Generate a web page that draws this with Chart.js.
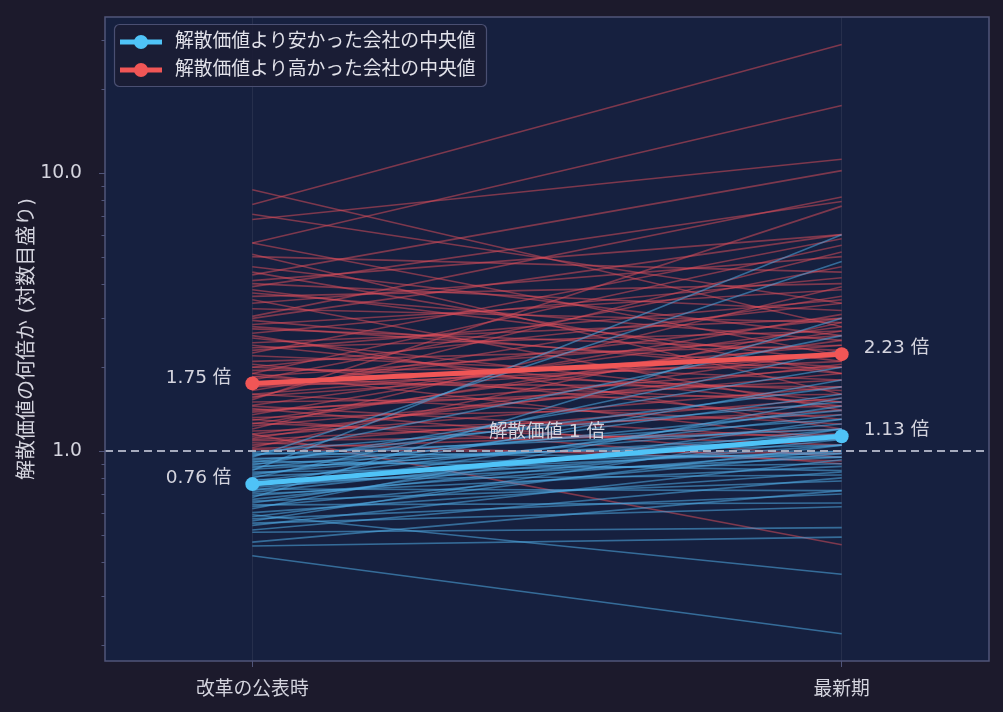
<!DOCTYPE html>
<html><head><meta charset="utf-8">
<script src="https://cdn.jsdelivr.net/npm/chart.js@4/dist/chart.umd.min.js"></script>
<style>html,body{margin:0;padding:0;background:#1c1a2c;}#wrap{width:1003px;height:712px;}</style>
</head><body><div id="wrap"><canvas id="c" width="1003" height="712"></canvas></div>
<script>
const categories = ['改革の公表時', '最新期'];
const redStart = [7.7, 8.7, 7.1, 6.8, 5.6, 5.6, 5.1, 4.3, 4.1, 4.0, 3.9, 3.7, 3.5, 3.4, 3.25, 3.05, 2.95, 2.85, 2.75, 2.65, 2.55, 2.45, 2.35, 2.25, 2.2, 2.1, 2.05, 2.0, 1.95, 1.9, 1.85, 1.8, 1.75, 1.7, 1.65, 1.6, 1.57, 1.53, 1.5, 1.46, 1.42, 1.38, 1.35, 1.32, 1.29, 1.26, 1.23, 1.2, 1.18, 1.15, 1.13, 1.11, 1.09, 1.07, 1.05, 1.03, 1.02, 1.01, 4.6, 3.0, 2.6, 2.3, 1.9, 1.6, 1.4, 1.25, 1.1, 2.8, 3.6, 2.0, 1.7, 1.45, 1.15, 1.3, 2.4, 3.8, 5.0, 4.4, 1.55, 1.85];
const redEnd   = [29, 2.8, 3.4, 11.2, 17.5, 2.2, 1.6, 10.2, 6.0, 3.2, 7.9, 2.5, 1.4, 5.0, 2.9, 8.2, 1.9, 3.8, 2.3, 4.2, 1.5, 3.0, 2.7, 5.8, 1.8, 2.4, 1.3, 3.4, 2.0, 1.1, 2.6, 4.6, 1.7, 2.1, 3.6, 1.25, 2.2, 7.6, 1.6, 2.8, 0.95, 2.0, 3.1, 1.45, 2.5, 1.05, 1.9, 3.9, 1.35, 0.46, 1.7, 2.3, 1.15, 0.92, 1.55, 2.9, 1.2, 0.98, 2.6, 6.0, 1.2, 3.5, 5.5, 2.4, 1.8, 2.7, 1.4, 2.0, 4.0, 1.65, 3.0, 1.1, 2.05, 0.9, 1.45, 2.1, 4.4, 1.9, 5.2, 1.5];
const blueStart = [0.99, 0.98, 0.97, 0.96, 0.95, 0.94, 0.93, 0.92, 0.91, 0.90, 0.89, 0.88, 0.87, 0.86, 0.85, 0.84, 0.83, 0.82, 0.81, 0.80, 0.79, 0.78, 0.77, 0.76, 0.75, 0.74, 0.73, 0.72, 0.71, 0.70, 0.69, 0.68, 0.67, 0.66, 0.65, 0.64, 0.63, 0.62, 0.60, 0.59, 0.58, 0.57, 0.56, 0.55, 0.54, 0.52, 0.51, 0.47, 0.455, 0.42];
const blueEnd   = [1.5, 0.95, 1.2, 2.6, 4.8, 1.05, 1.3, 0.85, 1.7, 1.1, 2.0, 0.98, 1.4, 1.15, 6.0, 0.9, 1.25, 1.6, 1.0, 2.3, 0.82, 1.35, 1.12, 0.95, 1.8, 1.05, 0.72, 1.45, 1.2, 0.88, 1.0, 3.0, 1.1, 0.78, 1.3, 0.65, 0.98, 1.55, 0.84, 0.36, 1.05, 0.70, 1.2, 0.63, 0.93, 0.80, 0.53, 0.72, 0.49, 0.22];
const medianLow  = [0.76, 1.13];
const medianHigh = [1.75, 2.23];
const yTickValues = [0.2, 0.3, 0.4, 0.5, 0.6, 0.7, 0.8, 0.9, 1, 2, 3, 4, 5, 6, 7, 8, 9, 10, 20, 30];
const yLabelValues = [1, 10];
const legendLabels = ['解散価値より安かった会社の中央値', '解散価値より高かった会社の中央値'];
const refLabel = '解散価値 1 倍';

const FONT = '"DejaVu Sans", "Noto Sans CJK JP", sans-serif';
const SPINE = '#50557a';
const TXT = '#d4d4de';
const RED = '#f05656';
const BLUE = '#4fc3f7';

function pts(a, b) { return [{x: 0, y: a}, {x: 1, y: b}]; }

const datasets = [];
datasets.push({label: legendLabels[0], data: pts(medianLow[0], medianLow[1]), borderColor: BLUE, backgroundColor: BLUE,
  borderWidth: 5, pointRadius: 7, pointBackgroundColor: BLUE, pointBorderWidth: 0});
datasets.push({label: legendLabels[1], data: pts(medianHigh[0], medianHigh[1]), borderColor: RED, backgroundColor: RED,
  borderWidth: 5, pointRadius: 7, pointBackgroundColor: RED, pointBorderWidth: 0});
for (let i = 0; i < blueStart.length; i++) {
  datasets.push({data: pts(blueStart[i], blueEnd[i]), borderColor: 'rgba(80,172,228,0.55)', borderWidth: 1.6, pointRadius: 0});
}
for (let i = 0; i < redStart.length; i++) {
  datasets.push({data: pts(redStart[i], redEnd[i]), borderColor: 'rgba(228,80,92,0.50)', borderWidth: 1.6, pointRadius: 0});
}

const decor = {
  id: 'decor',
  beforeDraw(chart) {
    const {ctx, chartArea: a} = chart;
    ctx.save();
    ctx.fillStyle = '#1c1a2c';
    ctx.fillRect(0, 0, chart.width, chart.height);
    ctx.fillStyle = '#16203f';
    ctx.fillRect(a.left, a.top, a.right - a.left, a.bottom - a.top);
    ctx.restore();
  },
  afterDatasetDraw(chart, args) {
    if (args.index !== 2) return;
    const {ctx, chartArea: a, scales: {y}} = chart;
    const py = y.getPixelForValue(1);
    ctx.save();
    ctx.strokeStyle = '#a6abbe';
    ctx.lineWidth = 2;
    ctx.setLineDash([8, 5]);
    ctx.beginPath(); ctx.moveTo(a.left, py); ctx.lineTo(a.right, py); ctx.stroke();
    ctx.setLineDash([]);
    ctx.fillStyle = TXT;
    ctx.font = '18.5px ' + FONT;
    ctx.textAlign = 'center'; ctx.textBaseline = 'middle';
    ctx.fillText(refLabel, (a.left + a.right) / 2, py - 19);
    ctx.restore();
  },
  afterDraw(chart) {
    const {ctx, chartArea: a, scales: {x, y}} = chart;
    ctx.save();
    ctx.strokeStyle = SPINE; ctx.lineWidth = 1;
    yTickValues.forEach(v => {
      const py = Math.round(y.getPixelForValue(v)) + 0.5;
      const len = yLabelValues.includes(v) ? 6 : 3.5;
      ctx.beginPath(); ctx.moveTo(a.left - len, py); ctx.lineTo(a.left, py); ctx.stroke();
    });
    ctx.lineWidth = 1.5;
    ctx.strokeRect(a.left, a.top, a.right - a.left, a.bottom - a.top);
    ctx.fillStyle = TXT;
    ctx.font = '18.5px ' + FONT;
    ctx.textBaseline = 'middle';
    const x0 = x.getPixelForValue(0), x1 = x.getPixelForValue(1);
    ctx.textAlign = 'right';
    ctx.fillText(medianHigh[0].toFixed(2) + ' 倍', x0 - 21, y.getPixelForValue(medianHigh[0]) - 5);
    ctx.fillText(medianLow[0].toFixed(2) + ' 倍', x0 - 21, y.getPixelForValue(medianLow[0]) - 6);
    ctx.textAlign = 'left';
    ctx.fillText(medianHigh[1].toFixed(2) + ' 倍', x1 + 22, y.getPixelForValue(medianHigh[1]) - 6);
    ctx.fillText(medianLow[1].toFixed(2) + ' 倍', x1 + 22, y.getPixelForValue(medianLow[1]) - 6);
    const lx = a.left + 9, ly = a.top + 7, lw = 372, lh = 62;
    ctx.beginPath();
    ctx.roundRect(lx + 0.5, ly + 0.5, lw, lh, 5);
    ctx.fillStyle = 'rgba(27,29,52,0.88)';
    ctx.fill();
    ctx.strokeStyle = '#4a4f72'; ctx.lineWidth = 1.2;
    ctx.stroke();
    const cols = [BLUE, RED];
    for (let i = 0; i < 2; i++) {
      const cy = ly + 18 + i * 28;
      ctx.strokeStyle = cols[i]; ctx.lineWidth = 5;
      ctx.beginPath(); ctx.moveTo(lx + 6, cy); ctx.lineTo(lx + 48, cy); ctx.stroke();
      ctx.fillStyle = cols[i];
      ctx.beginPath(); ctx.arc(lx + 27, cy, 7, 0, Math.PI * 2); ctx.fill();
      ctx.fillStyle = '#e2e2ea';
      ctx.font = '18.8px ' + FONT;
      ctx.textAlign = 'left'; ctx.textBaseline = 'middle';
      ctx.fillText(legendLabels[i], lx + 61, cy);
    }
    ctx.restore();
  }
};

new Chart(document.getElementById('c'), {
  type: 'line',
  data: {datasets},
  options: {
    responsive: false,
    animation: false,
    devicePixelRatio: 1,
    layout: {padding: {left: 0, top: 17, right: 14, bottom: 0}},
    plugins: {legend: {display: false}, tooltip: {enabled: false}},
    elements: {line: {tension: 0}},
    scales: {
      x: {
        type: 'linear', min: -0.25, max: 1.25,
        afterBuildTicks: s => { s.ticks = [{value: 0}, {value: 1}]; },
        afterFit: s => { s.height = 51; },
        ticks: {callback: v => categories[v], color: TXT, font: {family: FONT, size: 18.8}, padding: 12, maxRotation: 0},
        grid: {color: 'rgba(255,255,255,0.07)', tickColor: SPINE, tickLength: 6, lineWidth: 1},
        border: {display: false}
      },
      y: {
        type: 'logarithmic', min: 0.1756, max: 36.4,
        afterBuildTicks: s => { s.ticks = yTickValues.map(v => ({value: v, major: yLabelValues.includes(v)})); },
        afterFit: s => { s.width = 105; s.paddingTop = 0; s.paddingBottom = 0; },
        ticks: {callback: v => yLabelValues.includes(v) ? v.toFixed(1) : null, autoSkip: false, color: TXT, font: {family: FONT, size: 18.8}, padding: 15},
        grid: {display: false},
        border: {display: false},
        title: {display: true, text: '解散価値の何倍か (対数目盛り)', color: TXT, font: {family: FONT, size: 20}, padding: {top: 16, bottom: 0}}
      }
    }
  },
  plugins: [decor]
});
</script></body></html>
